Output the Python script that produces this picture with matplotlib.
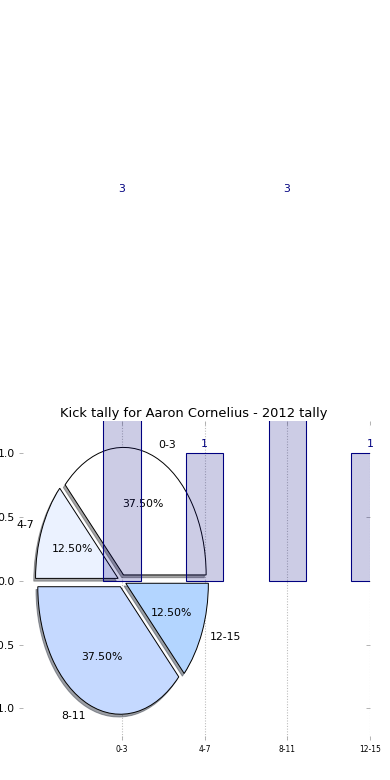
import matplotlib
matplotlib.use("Agg")
import matplotlib.pyplot as plt
import numpy as np

categories = ["0-3", "4-7", "8-11", "12-15"]
counts = [3, 1, 3, 1]
pie_colors = ["#FFFFFF", "#EBF2FF", "#C5D9FF", "#B3D5FF"]
yticks = [-1.0, -0.5, 0.0, 0.5, 1.0]
title = "Kick tally for Aaron Cornelius - 2012 tally"

fig = plt.figure(figsize=(5, 10), dpi=78)
ax = fig.add_axes([0.048, 0.051, 0.9, 0.4087])

wedges, texts, autotexts = ax.pie(
    counts, labels=categories, colors=pie_colors, explode=[0.05] * len(counts),
    autopct="%1.2f%%", shadow=True, frame=True,
    wedgeprops=dict(edgecolor="black", linewidth=0.9),
    textprops=dict(fontsize=10, color="black"))

x = np.arange(len(categories))
bars = ax.bar(x, counts, width=0.45, color="navy", alpha=0.2, zorder=3)
ax.bar(x, counts, width=0.45, facecolor="none", edgecolor="navy", linewidth=1.0, zorder=3)
for xi, h in zip(x, counts):
    ax.text(xi, h + 0.035, "%d" % h, ha="center", va="bottom", color="navy", fontsize=10)

ax.set_aspect("auto")
ax.set_xlim(-1.25, 3.0)
ax.set_ylim(-1.25, 1.25)
ax.set_xticks(x)
ax.set_xticklabels(categories, fontsize=7)
ax.set_yticks(yticks)
ax.set_yticklabels(["%.1f" % v for v in yticks], fontsize=10)
ax.tick_params(axis="both", direction="in", color="#aaaaaa", top=True, right=True, length=4)
ax.tick_params(axis="x", pad=4)
ax.xaxis.grid(True, linestyle=(0, (1, 1.5)), color="#bbbbbb", linewidth=1.0, zorder=0)
ax.set_axisbelow(True)
for s in ax.spines.values():
    s.set_visible(False)
ax.set_title(title, fontsize=12, pad=4)

fig.savefig("out.png", dpi=78)
